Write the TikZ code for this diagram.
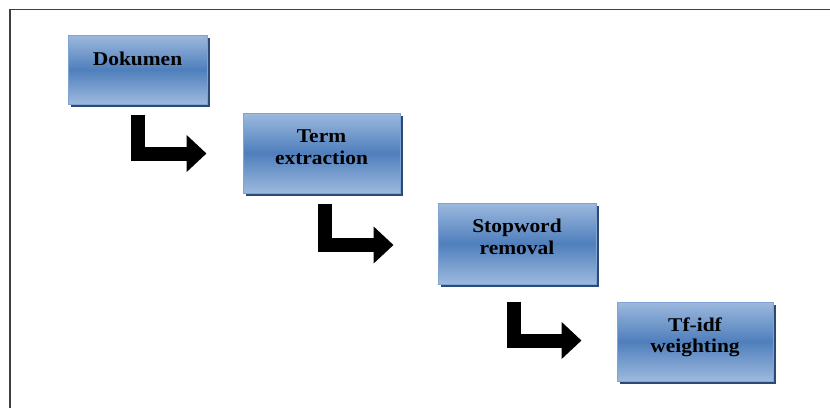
\documentclass[tikz,border=0pt]{standalone}
\usepackage{fontspec}
\setmainfont{Liberation Serif}[FakeStretch=1.1]
\usetikzlibrary{arrows.meta,calc,shadows}
\definecolor{boxlight}{HTML}{9DB9DE}
\definecolor{boxmid}{HTML}{4F7FBC}
\definecolor{boxedge}{HTML}{7FA3D3}
\definecolor{boxshadow}{HTML}{2B4A78}
\tikzset{
  stepbox/.style={rectangle, draw=boxedge, line width=1pt, inner sep=0pt,
    top color=boxlight, bottom color=boxlight, middle color=boxmid,
    drop shadow={shadow xshift=3pt, shadow yshift=-3pt, fill=boxshadow, opacity=1}},
  steptext/.style={anchor=base, inner sep=0pt, font=\fontsize{19.5}{22}\selectfont\bfseries, text=black},
  bigarrow/.style={line width=14pt, line join=miter, line cap=butt,
    -{Triangle[length=20pt,width=36pt]}}
}
\begin{document}
\begin{tikzpicture}[x=1pt,y=-1pt]
\useasboundingbox (0,0) rectangle (830,408);
\fill[white] (0,0) rectangle (830,408);
% frame
\draw[line width=1.5pt, black!75] (10,408) -- (10,9.5) -- (830,9.5);
% boxes
\node[stepbox, minimum width=139pt, minimum height=69pt] (b1) at (137.5,69.5) {};
\node[stepbox, minimum width=157pt, minimum height=80pt] (b2) at (321.5,153) {};
\node[stepbox, minimum width=158pt, minimum height=81pt] (b3) at (517,243.5) {};
\node[stepbox, minimum width=156pt, minimum height=79pt] (b4) at (695,341.5) {};
% texts
\node[steptext] (t1) at ($(b1.north)+(0,31)$) {Dokumen};
\node[steptext] (t2a) at ($(b2.north)+(0,30)$) {Term};
\node[steptext] (t2b) at ($(b2.north)+(0,52)$) {extraction};
\node[steptext] (t3a) at ($(b3.north)+(0,30)$) {Stopword};
\node[steptext] (t3b) at ($(b3.north)+(0,52)$) {removal};
\node[steptext] (t4a) at ($(b4.north)+(0,30)$) {Tf-idf};
\node[steptext] (t4b) at ($(b4.north)+(0,51)$) {weighting};
% arrows
\coordinate (a1s) at ($(b1.south)+(0.5,10)$);
\coordinate (a1e) at ($(b2.west)+(-36,0.5)$);
\coordinate (a2s) at ($(b2.south)+(3,10)$);
\coordinate (a2e) at ($(b3.west)+(-44,1.5)$);
\coordinate (a3s) at ($(b3.south)+(-3.5,17)$);
\coordinate (a3e) at ($(b4.west)+(-35,-1)$);
\draw[bigarrow] (a1s) |- (a1e);
\draw[bigarrow] (a2s) |- (a2e);
\draw[bigarrow] (a3s) |- (a3e);
\end{tikzpicture}
\end{document}
